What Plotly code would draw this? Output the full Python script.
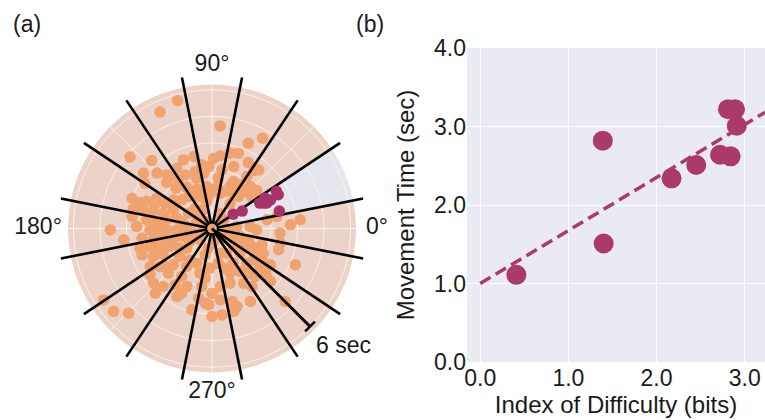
import numpy as np
import plotly.graph_objects as go

# ---------------- panel (b): Fitts' law fit ----------------
ID_BITS = [0.41, 1.39, 1.40, 2.17, 2.45, 2.72, 2.84, 2.81, 2.89, 2.91]
MT_SEC = [1.11, 2.82, 1.51, 2.34, 2.51, 2.64, 2.62, 3.22, 3.22, 3.01]
FIT_INTERCEPT = 1.0
FIT_SLOPE = 0.675
X_TICKS = [0, 1, 2, 3]
Y_TICKS = [0, 1, 2, 3, 4]

# ---------------- panel (a): polar movement plot ----------------
# direction (deg) of the highlighted target movements, radius = MT_SEC
PURPLE_DIR = [34, 26, 30, 28, 26, 30, 25, 30, 27, 14.6]
# other movements as east / north components (sec)
ORANGE_E = [-1.49, -2.25, 0.35, 2.19, 1.57, -3.55, -2.61, -1.24, -0.78, 0.07, 0.36, 0.78, 1.14, 1.57, 1.82,
            -0.45, -2.96, -2.38, -1.96, -1.52, -1.15, -0.72, -0.36, -0.14, 0.43, 0.94, 2.02, 1.50, -1.88,
            -1.96, -1.46, -0.66, 0.27, 0.92, -1.56, -1.10, -0.66, -0.23, 0.20, 0.78, 1.21, 1.65, -2.90,
            -0.59, -0.16, 0.35, 0.92, 1.43, 1.93, -0.81, -0.23, -0.45, 0.06, 0.56, 1.14, 1.72, -1.02,
            -2.40, -3.46, -3.12, -2.83, -2.47, -1.31,
            -3.41, -2.97, -2.54, -2.11, -1.67, -3.46, -4.40, -3.82, -2.83, -2.54, -2.25, -1.96, -1.53,
            -2.68, -2.40, -1.96, -1.53, -1.10, -0.66, -0.52, -0.38, -0.81, -3.03, -2.54, -2.11, -1.67,
            -1.24, -3.12, -2.68, -2.25, -1.82, -1.39, -3.03, -2.54, -2.11, -1.39, -0.95, -0.52, -1.02,
            -1.31, -3.26,
            0.03, 0.35, 0.52, 0.78, 0.63, 1.07, 1.65, 1.21, 2.38, 2.81, 3.39, 3.82, 2.94, 1.93, 0.20,
            0.06, -0.16, 0.35, 0.63, 0.92, 1.36, 1.72, 1.93, 2.22, 1.57, 1.21, 1.79, 1.50, 2.16, 2.96,
            2.89, 2.16, 2.53, 2.31, 3.61,
            -2.68, -2.53, -2.45, -2.03, -1.59, -1.31, -1.10, -0.95, -1.08, -1.52, -0.58, -0.87, -0.14,
            0.00, 0.36, 0.36, 0.87, 1.08, 1.66, 0.00, 0.43, 0.94, 1.37, 1.73, -0.29, -4.69, -4.26,
            -3.61, -0.45, -0.30, -0.52, -0.09, 0.78, 0.78, 0.92, 1.21, 2.08, 2.37, 2.53, 3.17, 1.86,
            1.57, -1.89, -2.25, -2.67,
            -0.38, -0.74, -0.23, -1.10, -0.30, -0.66, 0.27, 0.56, 0.92, 0.42, -1.67, -2.03, -1.67,
            -1.31, -2.11]
ORANGE_N = [5.54, 5.04, 4.44, 3.91, 3.69, 3.09, 2.94, 2.97, 3.12, 3.04, 3.15, 3.26, 3.26, 2.86, 2.51,
            2.76, 2.40, 2.40, 2.32, 2.61, 2.32, 2.47, 2.40, 2.68, 2.54, 2.68, 2.54, 2.25, 2.25,
            1.99, 2.11, 2.18, 2.18, 2.03, 1.75, 1.79, 1.70, 1.82, 1.75, 1.82, 1.89, 1.82, 1.96,
            1.39, 1.41, 1.53, 1.53, 1.60, 1.65, 1.53, 1.17, 1.67, 1.60, 1.60, 1.39, 1.39, 1.39,
            1.31, 1.31, 1.13, 1.18, 1.07, 1.24,
            0.84, 0.81, 0.74, 0.66, 0.81, 0.52, -0.06, -0.49, 0.38, 0.30, 0.23, 0.38, 0.45,
            -0.06, -0.06, -0.06, -0.06, 0.09, 0.30, 0.52, -0.06, -0.20, -0.42, -0.49, -0.42, -0.49,
            -0.35, -0.85, -0.78, -0.85, -0.78, -0.85, -1.14, -1.21, -1.14, -1.21, -0.56, -0.49, 0.66,
            0.30, 0.09,
            0.02, 0.66, 0.38, 1.07, -0.06, 0.09, 0.09, -0.35, 0.38, 0.52, 0.16, 0.38, -0.20, -0.06, -0.35,
            -0.63, -0.85, -1.07, -1.07, -0.71, -0.78, -0.78, -0.92, -1.07, -0.49, -1.07, -1.36, -1.50, -0.71, -0.63,
            -0.92, -1.36, -1.57, -1.86, -1.57,
            -2.01, -2.37, -2.80, -1.65, -2.44, -2.08, -1.65, -1.36, -2.51, -2.94, -3.02, -3.52, -3.30,
            -2.80, -2.51, -3.09, -3.16, -3.38, -3.16, -3.81, -3.74, -3.59, -2.37, -2.51, -3.23, -3.09, -3.59,
            -3.67, -2.51, -2.15, -1.93, -1.72, -2.37, -1.93, -1.50, -1.86, -1.65, -2.08, -2.29, -3.16, -2.08,
            -1.93, -1.93, -1.65, -1.65,
            0.81, 0.88, 0.30, -0.85, -1.14, -1.50, -1.50, -1.72, -0.27, -0.42, 1.24, 1.10, -1.57,
            -2.80, -2.51]

SECTOR_EDGES_DEG = [11.25, 33.75, 56.25, 78.75, 101.25, 123.75, 146.25, 168.75,
                    191.25, 213.75, 236.25, 258.75, 281.25, 303.75, 326.25, 348.75]
HIGHLIGHT_SECTOR = [11.25, 33.75]
ANGLE_TICKS = [0, 90, 180, 270]
ANGLE_TICKTEXT = ["0°", "90°", "180°", "270°"]
ANGLE_LABEL_R = [7.14, 7.06, 7.53, 7.08]   # where the angle labels sit (sec)
RING_R = [1.4, 2.55, 3.7, 4.85, 6.0]
GRID_ANGLES = [0, 45, 90, 135, 180, 225, 270, 315]
SCALE_SEC = 6
SCALE_DIR = 315

DISK_R = 6.23
SPOKE_R = 6.67
HUB_R = 0.24
R_RANGE = 7.7
PX_PER_SEC = 23.1

FONT = "Liberation Sans, Arial, sans-serif"
PINK = "#ebd3ca"
LIGHT = "#e6e6ef"
ORANGE = "#f0a26f"
PURPLE = "#a8336b"
PURPLE_B = "#ab3a6b"
TXT = "#1a1a1a"
GRID = "rgba(255,246,232,0.9)"

oe = np.array(ORANGE_E)
on = np.array(ORANGE_N)
orange_theta = np.degrees(np.arctan2(on, oe))
orange_r = np.hypot(oe, on)

fig = go.Figure()

# disk background and highlighted sector
h0, h1 = HIGHLIGHT_SECTOR
hw = h1 - h0
fig.add_trace(go.Barpolar(
    r=[DISK_R, DISK_R], theta=[(h0 + h1) / 2 + 180, (h0 + h1) / 2],
    width=[360 - hw, hw], marker=dict(color=[PINK, LIGHT], line=dict(width=0)),
    hoverinfo="skip"))

# faint grid
full = np.linspace(0, 360, 361)
for rr in RING_R:
    fig.add_trace(go.Scatterpolar(r=[rr] * len(full), theta=full, mode="lines",
                                  line=dict(color=GRID, width=1), hoverinfo="skip"))
gr, gt = [], []
for a in GRID_ANGLES:
    gr += [0, DISK_R, None]
    gt += [a, a, None]
fig.add_trace(go.Scatterpolar(r=gr, theta=gt, mode="lines",
                              line=dict(color=GRID, width=1), hoverinfo="skip"))

# orange movements
fig.add_trace(go.Scatterpolar(r=orange_r, theta=orange_theta, mode="markers",
                              marker=dict(size=11.5, color=ORANGE, line=dict(width=0))))

# sector boundary spokes
sr, st = [], []
for a in SECTOR_EDGES_DEG:
    sr += [HUB_R, SPOKE_R, None]
    st += [a, a, None]
fig.add_trace(go.Scatterpolar(r=sr, theta=st, mode="lines",
                              line=dict(color="black", width=2.6), hoverinfo="skip"))
fig.add_trace(go.Scatterpolar(r=[HUB_R] * len(full), theta=full, mode="lines",
                              line=dict(color="black", width=1.5), hoverinfo="skip"))

# scale bar
cap_half = 0.3
cap_r = float(np.hypot(SCALE_SEC, cap_half))
cap_da = float(np.degrees(np.arctan2(cap_half, SCALE_SEC)))
fig.add_trace(go.Scatterpolar(r=[0, SCALE_SEC], theta=[SCALE_DIR, SCALE_DIR], mode="lines",
                              line=dict(color="black", width=3), hoverinfo="skip"))
fig.add_trace(go.Scatterpolar(r=[cap_r, cap_r], theta=[SCALE_DIR - cap_da, SCALE_DIR + cap_da],
                              mode="lines", line=dict(color="black", width=2.5), hoverinfo="skip"))

# highlighted movements
fig.add_trace(go.Scatterpolar(r=MT_SEC, theta=PURPLE_DIR, mode="markers",
                              marker=dict(size=11.5, color=PURPLE, line=dict(width=0))))

# angle labels
fig.add_trace(go.Scatterpolar(r=ANGLE_LABEL_R, theta=ANGLE_TICKS, mode="text",
                              text=ANGLE_TICKTEXT, textposition="middle center",
                              textfont=dict(size=23, family=FONT, color=TXT),
                              cliponaxis=False, hoverinfo="skip"))

# ---------------- panel (b) ----------------
fit_x = [0, 3.23]
fit_y = [FIT_INTERCEPT + FIT_SLOPE * v for v in fit_x]
fig.add_trace(go.Scatter(x=fit_x, y=fit_y, mode="lines",
                         line=dict(color=PURPLE_B, width=3.5, dash="12px,6px"),
                         xaxis="x", yaxis="y", hoverinfo="skip"))
fig.add_trace(go.Scatter(x=ID_BITS, y=MT_SEC, mode="markers",
                         marker=dict(size=20, color=PURPLE_B, line=dict(width=0)),
                         xaxis="x", yaxis="y"))

# polar centre (212, 228.5) px
cx, cy = 212.0, 228.5
rp = R_RANGE * PX_PER_SEC
W, H = 765, 420
fig.update_layout(
    width=W, height=H, margin=dict(l=0, r=0, t=0, b=0, autoexpand=False),
    paper_bgcolor="white", plot_bgcolor="#eaeaf2", showlegend=False,
    font=dict(family=FONT, size=23, color=TXT),
    polar=dict(
        domain=dict(x=[(cx - rp) / W, (cx + rp) / W],
                    y=[(H - cy - rp) / H, (H - cy + rp) / H]),
        bgcolor="rgba(0,0,0,0)",
        radialaxis=dict(range=[0, R_RANGE], visible=False),
        angularaxis=dict(showticklabels=False, showgrid=False, showline=False, ticks="",
                         rotation=0, direction="counterclockwise"),
    ),
    xaxis=dict(domain=[467 / W, 1.0], range=[-0.15, 3.23], tickvals=X_TICKS,
               ticktext=[f"{v:.1f}" for v in X_TICKS], showgrid=True, gridcolor="white",
               gridwidth=1.3, zeroline=False, showline=False, ticks="", automargin=False,
               tickfont=dict(size=23), anchor="y",
               title=dict(text="Index of Difficulty (bits)", font=dict(size=24), standoff=0)),
    yaxis=dict(domain=[(H - 362) / H, (H - 48) / H], range=[0, 4], tickvals=Y_TICKS,
               ticktext=[f"{v:.1f}" for v in Y_TICKS], showgrid=True, gridcolor="white",
               gridwidth=1.3, zeroline=False, showline=False, ticks="", automargin=False,
               tickfont=dict(size=23), anchor="x",
               title=dict(text="Movement Time (sec)", font=dict(size=24), standoff=12)),
    annotations=[
        dict(text="(a)", x=11 / W, y=1 - 9 / H, xref="paper", yref="paper", xanchor="left",
             yanchor="top", showarrow=False, font=dict(size=23)),
        dict(text="(b)", x=354 / W, y=1 - 9 / H, xref="paper", yref="paper", xanchor="left",
             yanchor="top", showarrow=False, font=dict(size=23)),
        dict(text="6 sec", x=343 / W, y=1 - 345 / H, xref="paper", yref="paper",
             xanchor="center", yanchor="middle", showarrow=False, font=dict(size=23)),
    ],
)

fig.write_html("out.html", config={"displayModeBar": False},
               post_script="document.body.style.margin='0';")
